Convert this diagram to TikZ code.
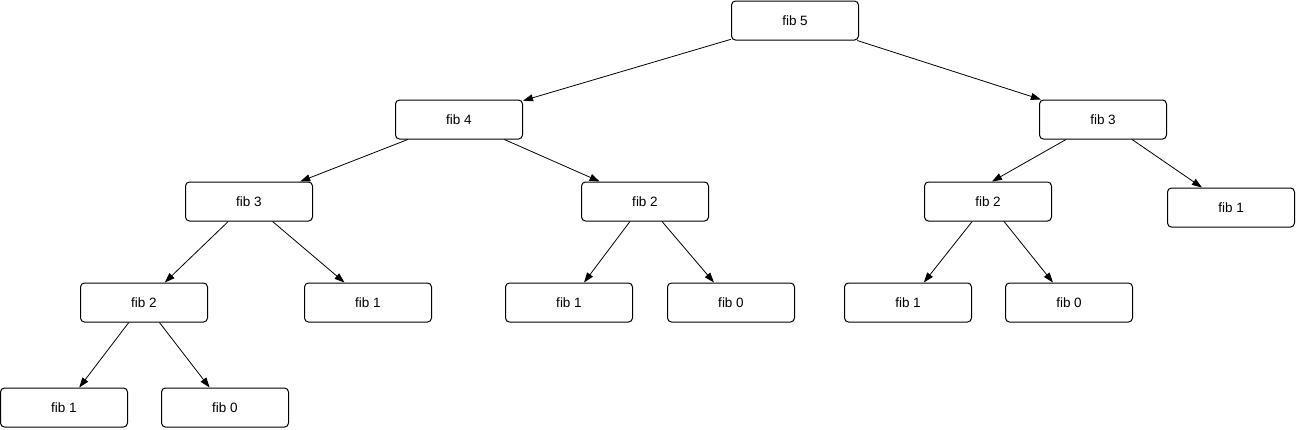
\documentclass[tikz,border=0pt]{standalone}
\usepackage{fontspec}
\setmainfont{Liberation Sans}
\usetikzlibrary{arrows.meta}
\begin{document}
\begin{tikzpicture}[x=1pt,y=-1pt,
  fibbox/.style={draw=black,line width=1pt,rounded corners=4pt,minimum width=127pt,minimum height=39pt,inner sep=0pt,font=\fontsize{13.5pt}{16pt}\selectfont,fill=white},
  arr/.style={-{Triangle[length=10pt,width=7pt]},line width=0.8pt}]
\useasboundingbox (0,0) rectangle (1296,429);
\node[fibbox] (f5) at (795,20.5) {fib 5};
\node[fibbox] (f4) at (459,119.5) {fib 4};
\node[fibbox] (f3r) at (1103,119.5) {fib 3};
\node[fibbox] (f3l) at (249,201.5) {fib 3};
\node[fibbox] (f2m) at (645,201.5) {fib 2};
\node[fibbox] (f2r) at (988,201.5) {fib 2};
\node[fibbox] (f1rr) at (1231,207.5) {fib 1};
\node[fibbox] (f2l) at (144,302.5) {fib 2};
\node[fibbox] (f1a) at (368,302.5) {fib 1};
\node[fibbox] (f1b) at (569,302.5) {fib 1};
\node[fibbox] (f0b) at (731,302.5) {fib 0};
\node[fibbox] (f1c) at (908,302.5) {fib 1};
\node[fibbox] (f0c) at (1069,302.5) {fib 0};
\node[fibbox] (f1d) at (64,407.5) {fib 1};
\node[fibbox] (f0d) at (225,407.5) {fib 0};
\draw[arr] (f5) -- (f4);
\draw[arr] (f5) -- (f3r);
\draw[arr] (f4) -- (f3l);
\draw[arr] (f4) -- (f2m);
\draw[arr] ([xshift=-37pt]f3r.south) -- ([xshift=4pt]f2r.north);
\draw[arr] (f3r) -- (f1rr);
\draw[arr] (f3l) -- (f2l);
\draw[arr] (f3l) -- (f1a);
\draw[arr] (f2m) -- (f1b);
\draw[arr] (f2m) -- (f0b);
\draw[arr] (f2r) -- (f1c);
\draw[arr] (f2r) -- (f0c);
\draw[arr] (f2l) -- (f1d);
\draw[arr] (f2l) -- (f0d);
\end{tikzpicture}
\end{document}
